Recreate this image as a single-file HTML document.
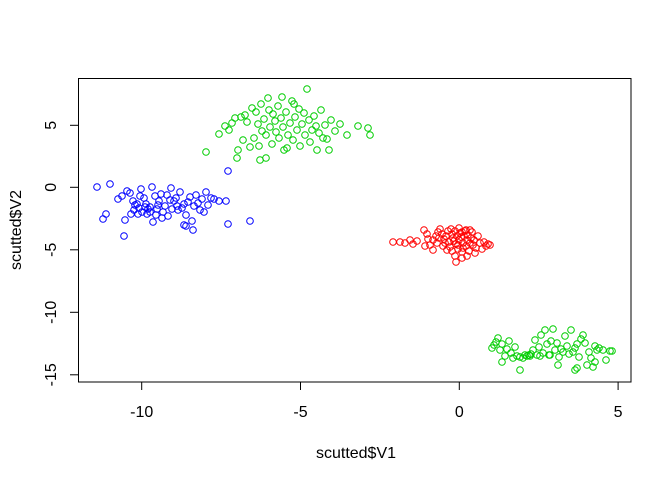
<!DOCTYPE html><html><head><style>body{margin:0;background:#fff}svg{display:block}text{font-family:"Liberation Sans",Arial,sans-serif;font-size:16px;fill:#000}</style></head><body>
<svg width="672" height="480" viewBox="0 0 672 480">
<rect x="78.5" y="78.5" width="552.5" height="303.5" fill="none" stroke="#000" stroke-width="1"/>
<g stroke="#000">
<line x1="141.7" y1="382" x2="141.7" y2="390"/><line x1="300.5" y1="382" x2="300.5" y2="390"/><line x1="459.3" y1="382" x2="459.3" y2="390"/><line x1="618.1" y1="382" x2="618.1" y2="390"/>
<line x1="70" y1="125.3" x2="78.5" y2="125.3"/><line x1="70" y1="187.3" x2="78.5" y2="187.3"/><line x1="70" y1="249.8" x2="78.5" y2="249.8"/><line x1="70" y1="312.3" x2="78.5" y2="312.3"/><line x1="70" y1="374.8" x2="78.5" y2="374.8"/>
</g>
<g text-anchor="middle">
<text x="141.7" y="417">-10</text><text x="300.5" y="417">-5</text><text x="459.3" y="417">0</text><text x="618.1" y="417">5</text>
<text x="356" y="458">scutted$V1</text>
<text transform="translate(56,125.3) rotate(-90)">5</text>
<text transform="translate(56,187.3) rotate(-90)">0</text>
<text transform="translate(56,249.8) rotate(-90)">-5</text>
<text transform="translate(56,312.3) rotate(-90)">-10</text>
<text transform="translate(56,374.8) rotate(-90)">-15</text>
<text transform="translate(21,230) rotate(-90)">scutted$V2</text>
</g>
<g fill="none" stroke="#0000ff" stroke-width="1">
<circle cx="97" cy="187" r="3.3"/><circle cx="103" cy="219" r="3.3"/><circle cx="106" cy="214" r="3.3"/><circle cx="110" cy="184" r="3.3"/><circle cx="118" cy="199" r="3.3"/><circle cx="122" cy="196" r="3.3"/><circle cx="125" cy="220" r="3.3"/><circle cx="127" cy="191" r="3.3"/><circle cx="130" cy="193" r="3.3"/><circle cx="133" cy="201" r="3.3"/><circle cx="135" cy="205" r="3.3"/><circle cx="137" cy="204" r="3.3"/><circle cx="139" cy="208" r="3.3"/><circle cx="141" cy="189" r="3.3"/><circle cx="142" cy="212" r="3.3"/><circle cx="144" cy="198" r="3.3"/><circle cx="146" cy="204" r="3.3"/><circle cx="148" cy="209" r="3.3"/><circle cx="150" cy="207" r="3.3"/><circle cx="152" cy="187" r="3.3"/><circle cx="153" cy="222" r="3.3"/><circle cx="155" cy="196" r="3.3"/><circle cx="157" cy="209" r="3.3"/><circle cx="159" cy="201" r="3.3"/><circle cx="161" cy="194" r="3.3"/><circle cx="163" cy="212" r="3.3"/><circle cx="165" cy="206" r="3.3"/><circle cx="167" cy="195" r="3.3"/><circle cx="168" cy="216" r="3.3"/><circle cx="170" cy="200" r="3.3"/><circle cx="172" cy="209" r="3.3"/><circle cx="174" cy="201" r="3.3"/><circle cx="176" cy="198" r="3.3"/><circle cx="178" cy="210" r="3.3"/><circle cx="180" cy="192" r="3.3"/><circle cx="182" cy="208" r="3.3"/><circle cx="184" cy="204" r="3.3"/><circle cx="186" cy="215" r="3.3"/><circle cx="188" cy="202" r="3.3"/><circle cx="190" cy="197" r="3.3"/><circle cx="192" cy="221" r="3.3"/><circle cx="194" cy="206" r="3.3"/><circle cx="196" cy="195" r="3.3"/><circle cx="198" cy="203" r="3.3"/><circle cx="200" cy="210" r="3.3"/><circle cx="202" cy="199" r="3.3"/><circle cx="204" cy="212" r="3.3"/><circle cx="206" cy="192" r="3.3"/><circle cx="208" cy="205" r="3.3"/><circle cx="211" cy="198" r="3.3"/><circle cx="214" cy="199" r="3.3"/><circle cx="219" cy="201" r="3.3"/><circle cx="226" cy="201" r="3.3"/><circle cx="228" cy="224" r="3.3"/><circle cx="228" cy="171" r="3.3"/><circle cx="250" cy="221" r="3.3"/><circle cx="145" cy="207" r="3.3"/><circle cx="150" cy="212" r="3.3"/><circle cx="138" cy="214" r="3.3"/><circle cx="131" cy="214" r="3.3"/><circle cx="124" cy="236" r="3.3"/><circle cx="156" cy="215" r="3.3"/><circle cx="171" cy="188" r="3.3"/><circle cx="177" cy="206" r="3.3"/><circle cx="186" cy="226" r="3.3"/><circle cx="193" cy="230" r="3.3"/><circle cx="184" cy="225" r="3.3"/><circle cx="162" cy="218" r="3.3"/><circle cx="147" cy="214" r="3.3"/><circle cx="140" cy="196" r="3.3"/><circle cx="158" cy="205" r="3.3"/><circle cx="134" cy="210" r="3.3"/>
</g>
<g fill="none" stroke="#00cd00" stroke-width="1">
<circle cx="206" cy="152" r="3.3"/><circle cx="219" cy="134" r="3.3"/><circle cx="225" cy="126" r="3.3"/><circle cx="229" cy="130" r="3.3"/><circle cx="232" cy="123" r="3.3"/><circle cx="235" cy="118" r="3.3"/><circle cx="238" cy="150" r="3.3"/><circle cx="241" cy="117" r="3.3"/><circle cx="243" cy="140" r="3.3"/><circle cx="245" cy="115" r="3.3"/><circle cx="247" cy="122" r="3.3"/><circle cx="252" cy="108" r="3.3"/><circle cx="254" cy="138" r="3.3"/><circle cx="256" cy="112" r="3.3"/><circle cx="258" cy="124" r="3.3"/><circle cx="259" cy="146" r="3.3"/><circle cx="261" cy="104" r="3.3"/><circle cx="262" cy="131" r="3.3"/><circle cx="264" cy="119" r="3.3"/><circle cx="266" cy="135" r="3.3"/><circle cx="268" cy="98" r="3.3"/><circle cx="269" cy="110" r="3.3"/><circle cx="270" cy="127" r="3.3"/><circle cx="272" cy="144" r="3.3"/><circle cx="273" cy="114" r="3.3"/><circle cx="275" cy="121" r="3.3"/><circle cx="276" cy="132" r="3.3"/><circle cx="278" cy="106" r="3.3"/><circle cx="279" cy="138" r="3.3"/><circle cx="281" cy="118" r="3.3"/><circle cx="283" cy="127" r="3.3"/><circle cx="284" cy="150" r="3.3"/><circle cx="286" cy="112" r="3.3"/><circle cx="288" cy="135" r="3.3"/><circle cx="290" cy="123" r="3.3"/><circle cx="292" cy="101" r="3.3"/><circle cx="293" cy="140" r="3.3"/><circle cx="295" cy="117" r="3.3"/><circle cx="297" cy="130" r="3.3"/><circle cx="299" cy="109" r="3.3"/><circle cx="300" cy="146" r="3.3"/><circle cx="302" cy="124" r="3.3"/><circle cx="304" cy="113" r="3.3"/><circle cx="305" cy="135" r="3.3"/><circle cx="307" cy="89" r="3.3"/><circle cx="309" cy="120" r="3.3"/><circle cx="310" cy="142" r="3.3"/><circle cx="312" cy="130" r="3.3"/><circle cx="314" cy="116" r="3.3"/><circle cx="316" cy="126" r="3.3"/><circle cx="317" cy="150" r="3.3"/><circle cx="319" cy="133" r="3.3"/><circle cx="321" cy="110" r="3.3"/><circle cx="323" cy="138" r="3.3"/><circle cx="325" cy="125" r="3.3"/><circle cx="327" cy="139" r="3.3"/><circle cx="329" cy="150" r="3.3"/><circle cx="331" cy="120" r="3.3"/><circle cx="335" cy="131" r="3.3"/><circle cx="340" cy="124" r="3.3"/><circle cx="347" cy="135" r="3.3"/><circle cx="358" cy="126" r="3.3"/><circle cx="368" cy="128" r="3.3"/><circle cx="370" cy="135" r="3.3"/><circle cx="294" cy="104" r="3.3"/><circle cx="282" cy="97" r="3.3"/><circle cx="266" cy="158" r="3.3"/><circle cx="237" cy="158" r="3.3"/><circle cx="250" cy="147" r="3.3"/><circle cx="260" cy="160" r="3.3"/><circle cx="287" cy="148" r="3.3"/>
<circle cx="492" cy="348" r="3.3"/><circle cx="494" cy="345" r="3.3"/><circle cx="496" cy="342" r="3.3"/><circle cx="498" cy="338" r="3.3"/><circle cx="500" cy="350" r="3.3"/><circle cx="502" cy="344" r="3.3"/><circle cx="505" cy="356" r="3.3"/><circle cx="507" cy="349" r="3.3"/><circle cx="509" cy="341" r="3.3"/><circle cx="511" cy="353" r="3.3"/><circle cx="513" cy="358" r="3.3"/><circle cx="515" cy="347" r="3.3"/><circle cx="517" cy="356" r="3.3"/><circle cx="520" cy="357" r="3.3"/><circle cx="523" cy="358" r="3.3"/><circle cx="525" cy="355" r="3.3"/><circle cx="527" cy="356" r="3.3"/><circle cx="529" cy="355" r="3.3"/><circle cx="531" cy="354" r="3.3"/><circle cx="533" cy="350" r="3.3"/><circle cx="535" cy="340" r="3.3"/><circle cx="537" cy="355" r="3.3"/><circle cx="539" cy="347" r="3.3"/><circle cx="541" cy="335" r="3.3"/><circle cx="543" cy="353" r="3.3"/><circle cx="545" cy="330" r="3.3"/><circle cx="547" cy="344" r="3.3"/><circle cx="549" cy="355" r="3.3"/><circle cx="551" cy="341" r="3.3"/><circle cx="553" cy="329" r="3.3"/><circle cx="555" cy="350" r="3.3"/><circle cx="557" cy="343" r="3.3"/><circle cx="559" cy="357" r="3.3"/><circle cx="561" cy="349" r="3.3"/><circle cx="563" cy="352" r="3.3"/><circle cx="565" cy="336" r="3.3"/><circle cx="567" cy="346" r="3.3"/><circle cx="569" cy="354" r="3.3"/><circle cx="571" cy="330" r="3.3"/><circle cx="573" cy="352" r="3.3"/><circle cx="575" cy="348" r="3.3"/><circle cx="577" cy="344" r="3.3"/><circle cx="579" cy="357" r="3.3"/><circle cx="581" cy="339" r="3.3"/><circle cx="583" cy="335" r="3.3"/><circle cx="585" cy="343" r="3.3"/><circle cx="587" cy="365" r="3.3"/><circle cx="589" cy="352" r="3.3"/><circle cx="591" cy="358" r="3.3"/><circle cx="593" cy="367" r="3.3"/><circle cx="595" cy="346" r="3.3"/><circle cx="597" cy="350" r="3.3"/><circle cx="599" cy="348" r="3.3"/><circle cx="603" cy="350" r="3.3"/><circle cx="606" cy="360" r="3.3"/><circle cx="610" cy="351" r="3.3"/><circle cx="612" cy="351" r="3.3"/><circle cx="502" cy="362" r="3.3"/><circle cx="520" cy="370" r="3.3"/><circle cx="558" cy="365" r="3.3"/><circle cx="575" cy="370" r="3.3"/><circle cx="577" cy="368" r="3.3"/><circle cx="595" cy="362" r="3.3"/><circle cx="530" cy="356" r="3.3"/><circle cx="540" cy="356" r="3.3"/><circle cx="550" cy="355" r="3.3"/>
</g>
<g fill="none" stroke="#ff0000" stroke-width="1">
<circle cx="393" cy="242" r="3.3"/><circle cx="400" cy="242" r="3.3"/><circle cx="405" cy="243" r="3.3"/><circle cx="410" cy="240" r="3.3"/><circle cx="413" cy="244" r="3.3"/><circle cx="417" cy="241" r="3.3"/><circle cx="424" cy="230" r="3.3"/><circle cx="427" cy="234" r="3.3"/><circle cx="428" cy="239" r="3.3"/><circle cx="430" cy="245" r="3.3"/><circle cx="425" cy="246" r="3.3"/><circle cx="433" cy="240" r="3.3"/><circle cx="436" cy="236" r="3.3"/><circle cx="438" cy="232" r="3.3"/><circle cx="440" cy="229" r="3.3"/><circle cx="442" cy="234" r="3.3"/><circle cx="444" cy="239" r="3.3"/><circle cx="446" cy="236" r="3.3"/><circle cx="448" cy="231" r="3.3"/><circle cx="449" cy="242" r="3.3"/><circle cx="450" cy="247" r="3.3"/><circle cx="452" cy="234" r="3.3"/><circle cx="453" cy="238" r="3.3"/><circle cx="455" cy="231" r="3.3"/><circle cx="456" cy="244" r="3.3"/><circle cx="457" cy="236" r="3.3"/><circle cx="458" cy="249" r="3.3"/><circle cx="459" cy="240" r="3.3"/><circle cx="460" cy="233" r="3.3"/><circle cx="461" cy="237" r="3.3"/><circle cx="462" cy="252" r="3.3"/><circle cx="463" cy="243" r="3.3"/><circle cx="464" cy="236" r="3.3"/><circle cx="465" cy="231" r="3.3"/><circle cx="466" cy="246" r="3.3"/><circle cx="467" cy="240" r="3.3"/><circle cx="468" cy="235" r="3.3"/><circle cx="469" cy="251" r="3.3"/><circle cx="470" cy="243" r="3.3"/><circle cx="471" cy="238" r="3.3"/><circle cx="472" cy="232" r="3.3"/><circle cx="473" cy="245" r="3.3"/><circle cx="474" cy="240" r="3.3"/><circle cx="476" cy="248" r="3.3"/><circle cx="478" cy="236" r="3.3"/><circle cx="480" cy="243" r="3.3"/><circle cx="482" cy="249" r="3.3"/><circle cx="484" cy="242" r="3.3"/><circle cx="486" cy="246" r="3.3"/><circle cx="488" cy="244" r="3.3"/><circle cx="490" cy="245" r="3.3"/><circle cx="455" cy="256" r="3.3"/><circle cx="462" cy="258" r="3.3"/><circle cx="447" cy="250" r="3.3"/><circle cx="437" cy="243" r="3.3"/><circle cx="443" cy="246" r="3.3"/><circle cx="452" cy="251" r="3.3"/><circle cx="467" cy="256" r="3.3"/><circle cx="433" cy="250" r="3.3"/><circle cx="456" cy="262" r="3.3"/><circle cx="459" cy="228" r="3.3"/><circle cx="451" cy="229" r="3.3"/><circle cx="475" cy="253" r="3.3"/><circle cx="462" cy="232" r="3.3"/><circle cx="466" cy="230" r="3.3"/><circle cx="470" cy="230" r="3.3"/><circle cx="458" cy="245" r="3.3"/><circle cx="463" cy="248" r="3.3"/><circle cx="445" cy="243" r="3.3"/><circle cx="439" cy="238" r="3.3"/><circle cx="454" cy="241" r="3.3"/>
</g>
</svg></body></html>
